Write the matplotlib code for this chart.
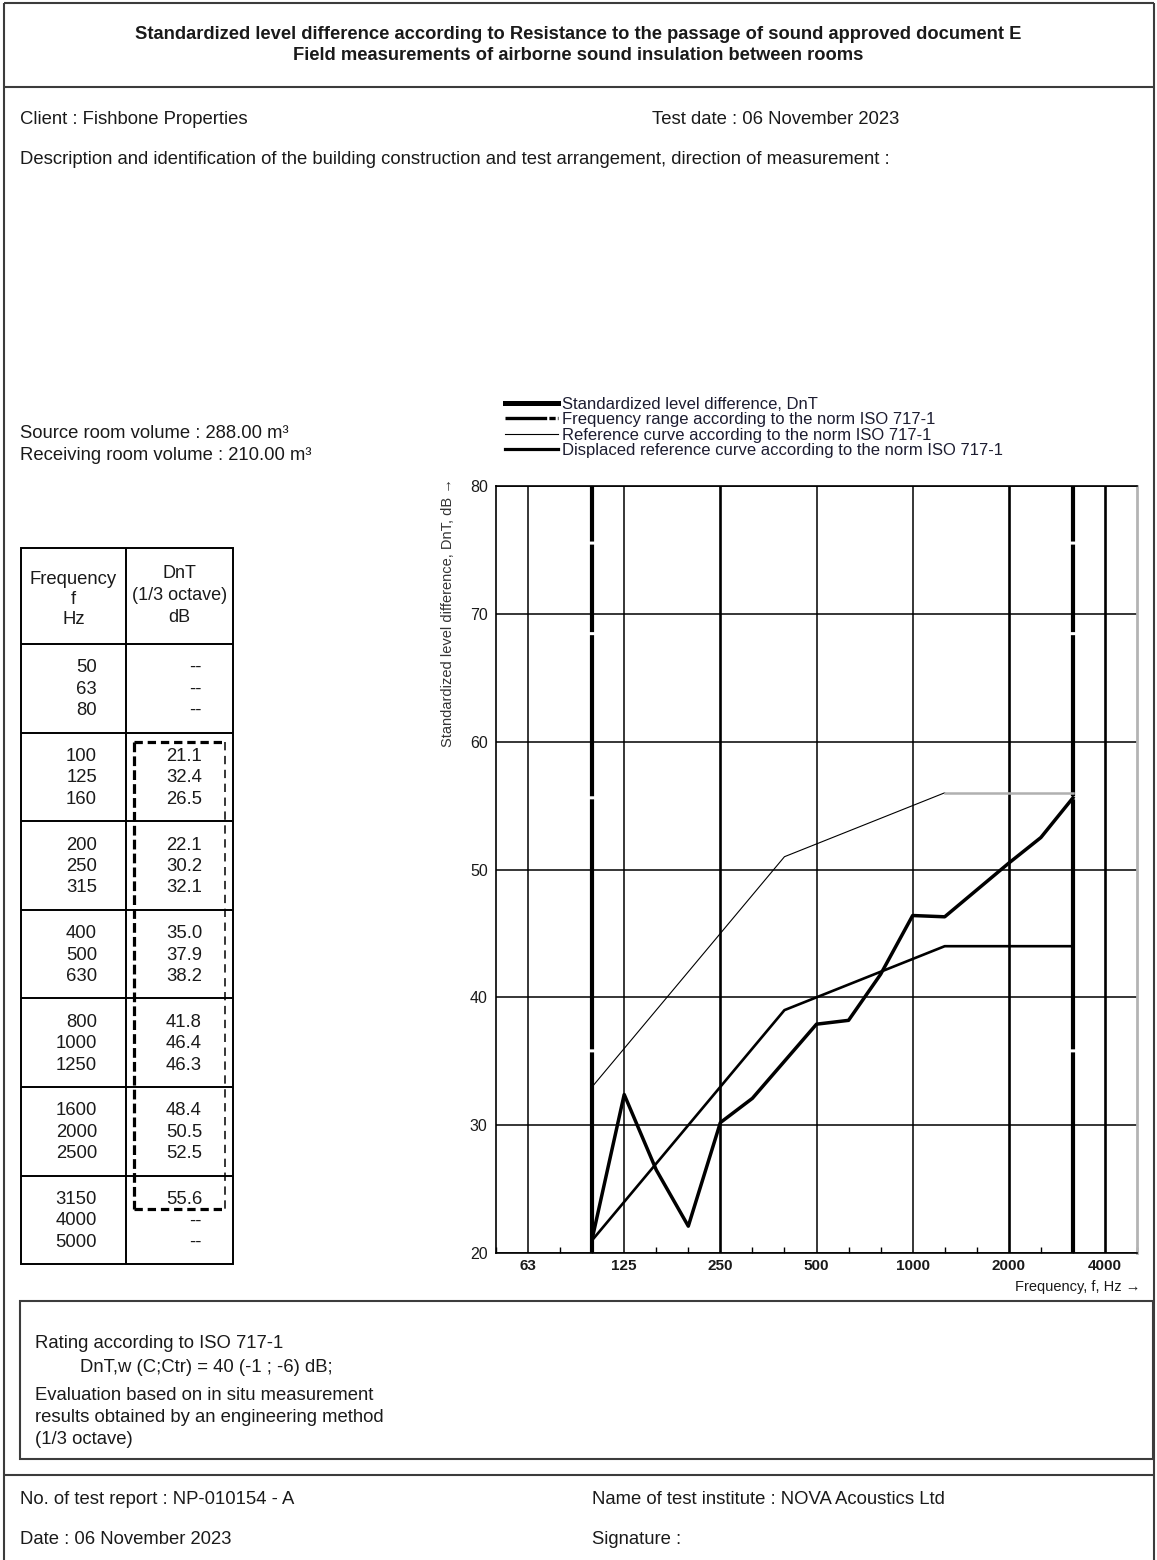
import matplotlib
matplotlib.use('Agg')
import matplotlib.pyplot as plt
from matplotlib.lines import Line2D
from matplotlib.patches import Rectangle

plt.rcParams['font.family'] = ['Liberation Sans', 'DejaVu Sans']
plt.rcParams['lines.scale_dashes'] = False

W, H = 1157, 1560
INK = '#1a1a1a'
FRAME = '#3c3c3c'
FS = 13.3  # body text size

# 1/3 octave bands 50 Hz .. 5000 Hz (also the table rows)
bands = [50, 63, 80, 100, 125, 160, 200, 250, 315, 400, 500, 630,
         800, 1000, 1250, 1600, 2000, 2500, 3150, 4000, 5000]
# measured DnT per band, None = not measured
dnt = [None, None, None, 21.1, 32.4, 26.5, 22.1, 30.2, 32.1, 35.0, 37.9, 38.2,
       41.8, 46.4, 46.3, 48.4, 50.5, 52.5, 55.6, None, None]
# ISO 717-1 reference curve, 100 .. 3150 Hz
ref_curve = [33, 36, 39, 42, 45, 48, 51, 52, 53, 54, 55, 56, 56, 56, 56, 56]
# reference curve shifted to DnT,w = 40
displaced = [21, 24, 27, 30, 33, 36, 39, 40, 41, 42, 43, 44, 44, 44, 44, 44]
range_lo, range_hi = 100, 3150
labelled = [63, 125, 250, 500, 1000, 2000, 4000]
thick_grid = [250, 2000, 4000]
y_ticks = [20, 30, 40, 50, 60, 70, 80]

legend_labels = ['Standardized level difference, DnT',
                 'Frequency range according to the norm ISO 717-1',
                 'Reference curve according to the norm ISO 717-1',
                 'Displaced reference curve according to the norm ISO 717-1']

title = ('Standardized level difference according to Resistance to the passage of sound approved document E\n'
         'Field measurements of airborne sound insulation between rooms')
client = 'Client : Fishbone Properties'
test_date = 'Test date : 06 November 2023'
description = ('Description and identification of the building construction and test arrangement, '
               'direction of measurement :')
volumes = ['Source room volume : 288.00 m\u00b3', 'Receiving room volume : 210.00 m\u00b3']
rating = 'DnT,w (C;Ctr) = 40 (-1 ; -6) dB;'
evaluation = ['Evaluation based on in situ measurement',
              'results obtained by an engineering method',
              '(1/3 octave)']
report_no = 'No. of test report : NP-010154 - A'
institute = 'Name of test institute : NOVA Acoustics Ltd'
report_date = 'Date : 06 November 2023'


fig = plt.figure(figsize=(W / 100, H / 100), dpi=100)

# page layer in pixel coordinates (y down)
page = fig.add_axes([0, 0, 1, 1])
page.set_xlim(0, W)
page.set_ylim(H, 0)
page.axis('off')


def hline(y, x0, x1, lw=1.5, color=FRAME):
    page.plot([x0, x1], [y, y], color=color, lw=lw, solid_capstyle='butt')


def vline(x, y0, y1, lw=1.5, color=FRAME):
    page.plot([x, x], [y0, y1], color=color, lw=lw, solid_capstyle='butt')


def put(x, y, s, **kw):
    kw.setdefault('fontsize', FS)
    kw.setdefault('ha', 'left')
    page.text(x, y, s, va='center', color=INK, **kw)


# page frame
hline(3, 4, 1154)
vline(4, 3, H)
vline(1154, 3, H)
hline(87, 4, 1154)
hline(1475, 4, 1154)

page.text(W / 2, 45, title, ha='center', va='center', fontsize=13.2, fontweight='bold',
          color=INK, linespacing=1.35)
put(20, 120, client)
put(652, 120, test_date)
put(20, 160, description)
put(20, 434, volumes[0])
put(20, 455, volumes[1])

# ---- table of values ----
tx0, tx1, tx2 = 21, 126, 233
ty_top, ty_head = 548, 644
group_h = 88.6
n_groups = len(bands) // 3
ty_bot = ty_head + n_groups * group_h
page.add_patch(Rectangle((tx0, ty_top), tx2 - tx0, ty_bot - ty_top, fill=False, ec='k', lw=1.4))
vline(tx1, ty_top, ty_bot, lw=1.4, color='k')
for g in range(n_groups):
    hline(ty_head + g * group_h, tx0, tx2, lw=1.4, color='k')

for txt, y in zip(['Frequency', 'f', 'Hz'], [580, 600, 619]):
    put((tx0 + tx1) / 2, y, txt, ha='center')
for txt, y in zip(['DnT', '(1/3 octave)', 'dB'], [574, 596, 617]):
    put((tx1 + tx2) / 2, y, txt, ha='center', fontsize=13)

for i, (f, v) in enumerate(zip(bands, dnt)):
    g, r = divmod(i, 3)
    yc = ty_head + g * group_h + group_h / 2 + 1 + (r - 1) * 21.5
    put(97, yc, str(f), ha='right')
    put(202, yc, '--' if v is None else f'{v:.1f}', ha='right')

# dashed frame round the evaluated range
bx0, bx1, by0, by1 = 134, 225, 742, 1209
page.plot([bx0, bx0], [by0, by1], color='k', lw=2.3, dashes=[7, 3])
page.plot([bx0, bx1], [by0, by0], color='k', lw=2.3, dashes=[6, 3.5])
page.plot([bx0, bx1], [by1, by1], color='k', lw=2.3, dashes=[6, 3.5])
page.plot([bx1, bx1], [by0, by1], color='k', lw=1.1, dashes=[6, 4])

# ---- chart ----
ax = fig.add_axes([496 / W, 1 - 1253 / H, (1137 - 496) / W, (1253 - 486) / H])
xs = list(range(len(bands)))
ax.set_xlim(xs[0], xs[-1])
ax.set_ylim(y_ticks[0], y_ticks[-1])

for f in labelled:
    ax.axvline(bands.index(f), color='k', lw=1.9 if f in thick_grid else 1.1, zorder=1)
ax.set_yticks(y_ticks)
ax.grid(axis='y', color='k', lw=1.1, zorder=1)

range_dash = [40, 2.2, 63, 2.2, 116, 2.2, 180, 2.2, 300, 10]
for f in (range_lo, range_hi):
    i = bands.index(f)
    ax.plot([i, i], [y_ticks[-1], y_ticks[0]], color='k', lw=3.0, dashes=range_dash, zorder=2)

i0, i1 = bands.index(range_lo), bands.index(range_hi)
x_iso = xs[i0:i1 + 1]
split = bands.index(1250) - i0
ax.plot(x_iso[:split + 1], ref_curve[:split + 1], color='k', lw=0.8, zorder=3)
ax.plot(x_iso[split:], ref_curve[split:], color='#b0b0b0', lw=1.8, zorder=3)
ax.plot(x_iso, displaced, color='k', lw=1.9, zorder=4)
ax.plot(x_iso, dnt[i0:i1 + 1], color='k', lw=2.5, zorder=5)

ax.set_xticks([bands.index(f) for f in labelled])
ax.set_xticklabels([str(f) for f in labelled], fontweight='bold', fontsize=11, color=INK)
ax.set_xticks(xs, minor=True)
ax.tick_params(axis='x', which='major', length=0, pad=4)
ax.tick_params(axis='x', which='minor', direction='in', length=4, width=1, color='k')
ax.tick_params(axis='y', length=0, pad=6, labelsize=11.5, labelcolor=INK)

for s in ('left', 'top', 'bottom'):
    ax.spines[s].set_linewidth(1.2)
    ax.spines[s].set_color('k')
ax.spines['right'].set_color('#b4b4b4')
ax.spines['right'].set_linewidth(2)

ax.set_ylabel('Standardized level difference, DnT, dB \u2192', fontsize=10.5, color='#333333',
              loc='top')
ax.yaxis.set_label_coords(-0.064, 1.01)

handles = [Line2D([], [], color='k', lw=3.6),
           Line2D([], [], color='k', lw=2.4, dashes=[30, 1.6, 4.5, 1.6]),
           Line2D([], [], color='k', lw=0.8),
           Line2D([], [], color='k', lw=2.3)]
fig.legend(handles, legend_labels, loc='upper left', bbox_to_anchor=(505 / W, 1 - 397 / H),
           frameon=False, fontsize=12, borderpad=0, borderaxespad=0, handlelength=3.17,
           handletextpad=0.24, labelspacing=0.02, labelcolor='#1c1c30')

put(1140, 1287, 'Frequency, f, Hz \u2192', ha='right', fontsize=10.5)

# ---- rating box ----
page.add_patch(Rectangle((20, 1301), 1153 - 20, 1459 - 1301, fill=False, ec=FRAME, lw=1.5))
put(35, 1344, 'Rating according to ISO 717-1')
put(80, 1367, rating)
for k, line in enumerate(evaluation):
    put(35, 1396 + k * 22, line)

# ---- footer ----
put(20, 1500, report_no)
put(592, 1500, institute)
put(20, 1540, report_date)
put(592, 1540, 'Signature :')

fig.savefig('out.png', dpi=100)
